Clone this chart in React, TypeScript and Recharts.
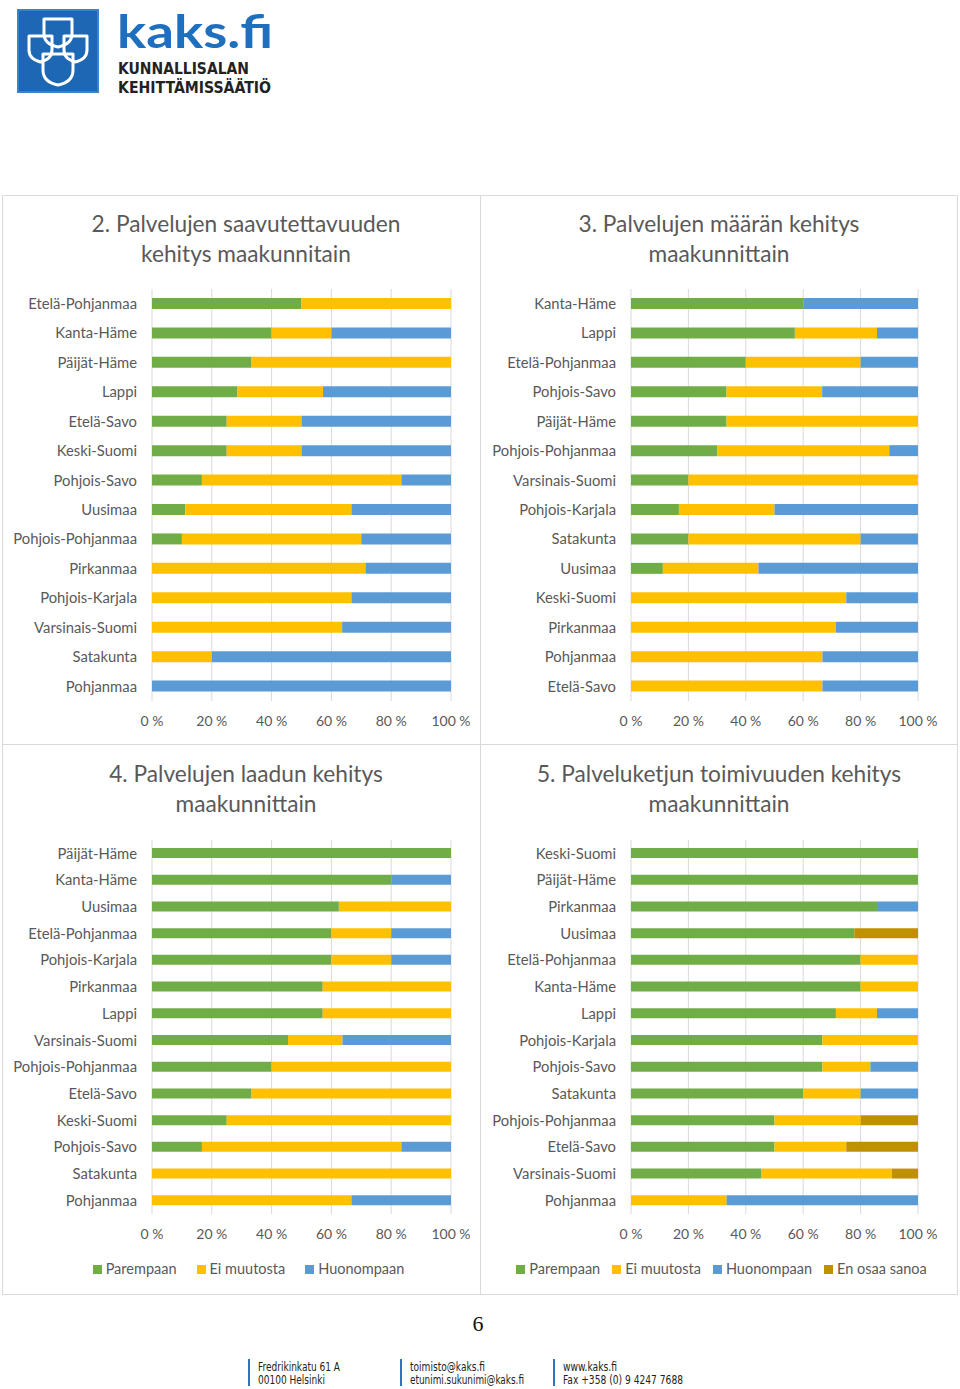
import React from 'react';
import { BarChart, Bar, XAxis, YAxis, CartesianGrid, Legend } from 'recharts';

// ---------- data ----------
const seriesNames = ['Parempaan', 'Ei muutosta', 'Huonompaan', 'En osaa sanoa'];
const xTicks = [0, 20, 40, 60, 80, 100];

// Chart 2
const c2Regions = ['Etelä-Pohjanmaa', 'Kanta-Häme', 'Päijät-Häme', 'Lappi', 'Etelä-Savo', 'Keski-Suomi', 'Pohjois-Savo', 'Uusimaa', 'Pohjois-Pohjanmaa', 'Pirkanmaa', 'Pohjois-Karjala', 'Varsinais-Suomi', 'Satakunta', 'Pohjanmaa'];
const c2Parempaan = [50, 40, 33.3, 28.6, 25, 25, 16.7, 11.1, 10, 0, 0, 0, 0, 0];
const c2EiMuutosta = [50, 20, 66.7, 28.6, 25, 25, 66.7, 55.6, 60, 71.4, 66.7, 63.6, 20, 0];
const c2Huonompaan = [0, 40, 0, 42.8, 50, 50, 16.6, 33.3, 30, 28.6, 33.3, 36.4, 80, 100];

// Chart 3
const c3Regions = ['Kanta-Häme', 'Lappi', 'Etelä-Pohjanmaa', 'Pohjois-Savo', 'Päijät-Häme', 'Pohjois-Pohjanmaa', 'Varsinais-Suomi', 'Pohjois-Karjala', 'Satakunta', 'Uusimaa', 'Keski-Suomi', 'Pirkanmaa', 'Pohjanmaa', 'Etelä-Savo'];
const c3Parempaan = [60, 57.1, 40, 33.3, 33.3, 30, 20, 16.7, 20, 11.1, 0, 0, 0, 0];
const c3EiMuutosta = [0, 28.6, 40, 33.3, 66.7, 60, 80, 33.3, 60, 33.3, 75, 71.4, 66.7, 66.7];
const c3Huonompaan = [40, 14.3, 20, 33.4, 0, 10, 0, 50, 20, 55.6, 25, 28.6, 33.3, 33.3];

// Chart 4
const c4Regions = ['Päijät-Häme', 'Kanta-Häme', 'Uusimaa', 'Etelä-Pohjanmaa', 'Pohjois-Karjala', 'Pirkanmaa', 'Lappi', 'Varsinais-Suomi', 'Pohjois-Pohjanmaa', 'Etelä-Savo', 'Keski-Suomi', 'Pohjois-Savo', 'Satakunta', 'Pohjanmaa'];
const c4Parempaan = [100, 80, 62.5, 60, 60, 57.1, 57.1, 45.5, 40, 33.3, 25, 16.7, 0, 0];
const c4EiMuutosta = [0, 0, 37.5, 20, 20, 42.9, 42.9, 18.2, 60, 66.7, 75, 66.7, 100, 66.7];
const c4Huonompaan = [0, 20, 0, 20, 20, 0, 0, 36.3, 0, 0, 0, 16.6, 0, 33.3];

// Chart 5
const c5Regions = ['Keski-Suomi', 'Päijät-Häme', 'Pirkanmaa', 'Uusimaa', 'Etelä-Pohjanmaa', 'Kanta-Häme', 'Lappi', 'Pohjois-Karjala', 'Pohjois-Savo', 'Satakunta', 'Pohjois-Pohjanmaa', 'Etelä-Savo', 'Varsinais-Suomi', 'Pohjanmaa'];
const c5Parempaan = [100, 100, 85.7, 77.8, 80, 80, 71.4, 66.7, 66.7, 60, 50, 50, 45.5, 0];
const c5EiMuutosta = [0, 0, 0, 0, 20, 20, 14.3, 33.3, 16.7, 20, 30, 25, 45.4, 33.3];
const c5Huonompaan = [0, 0, 14.3, 0, 0, 0, 14.3, 0, 16.6, 20, 0, 0, 0, 66.7];
const c5EnOsaa = [0, 0, 0, 22.2, 0, 0, 0, 0, 0, 0, 20, 25, 9.1, 0];

// ---------- styling ----------
const COLORS: Record<string, string> = {
  Parempaan: '#70AD47',
  'Ei muutosta': '#FFC000',
  Huonompaan: '#5B9BD5',
  'En osaa sanoa': '#BF9000',
};
const FONT = "Lato, 'Open Sans', sans-serif";
const TEXT = '#595959';
const GRID = '#d9d9d9';

function buildRows(names: string[], series: number[][]) {
  return names.map((name, i) => {
    const row: Record<string, any> = { name };
    series.forEach((s, j) => {
      row[seriesNames[j]] = s[i];
    });
    return row;
  });
}

const data2 = buildRows(c2Regions, [c2Parempaan, c2EiMuutosta, c2Huonompaan]);
const data3 = buildRows(c3Regions, [c3Parempaan, c3EiMuutosta, c3Huonompaan]);
const data4 = buildRows(c4Regions, [c4Parempaan, c4EiMuutosta, c4Huonompaan]);
const data5 = buildRows(c5Regions, [c5Parempaan, c5EiMuutosta, c5Huonompaan, c5EnOsaa]);

function LegendBox(props: any) {
  const { payload = [], gap = 16, shift = 0, order = [] } = props;
  const items = [...payload].sort((a: any, b: any) => order.indexOf(a.value) - order.indexOf(b.value));
  return (
    <div
      style={{
        display: 'flex',
        justifyContent: 'center',
        gap,
        height: 20,
        lineHeight: '20px',
        fontSize: 14.5,
        fontFamily: FONT,
        color: TEXT,
        paddingLeft: shift > 0 ? shift : 0,
        paddingRight: shift < 0 ? -shift : 0,
      }}
    >
      {items.map((p: any) => (
        <span key={p.value} style={{ display: 'flex', alignItems: 'center' }}>
          <span style={{ display: 'inline-block', width: 9, height: 9, background: p.color, marginRight: 4 }} />
          {p.value}
        </span>
      ))}
    </div>
  );
}

type PanelProps = {
  left: number;
  top: number;
  width: number;
  height: number;
  data: any[];
  keys: string[];
  barSize: number;
  margin: { top: number; right: number; bottom: number; left: number };
  xAxisHeight: number;
  legendGap?: number;
  legendShift?: number;
};

function Panel(p: PanelProps) {
  return (
    <div style={{ position: 'absolute', left: p.left, top: p.top }}>
      <BarChart layout="vertical" width={p.width} height={p.height} data={p.data} margin={p.margin} barCategoryGap={0}>
        <CartesianGrid horizontal={false} stroke={GRID} />
        <XAxis
          type="number"
          domain={[0, 100]}
          ticks={xTicks}
          allowDataOverflow
          interval={0}
          tickFormatter={(v: number) => `${v} %`}
          axisLine={false}
          tickLine={false}
          tickMargin={9}
          height={p.xAxisHeight}
          tick={{ fill: TEXT, fontSize: 14, fontFamily: FONT }}
        />
        <YAxis
          type="category"
          dataKey="name"
          width={150}
          interval={0}
          axisLine={false}
          tickLine={false}
          tickMargin={9}
          tick={{ fill: TEXT, fontSize: 14.8, fontFamily: FONT }}
        />
        {p.keys.map((k) => (
          <Bar key={k} dataKey={k} name={k} stackId="s" fill={COLORS[k]} barSize={p.barSize} isAnimationActive={false} />
        ))}
        {p.legendGap !== undefined && (
          <Legend
            verticalAlign="bottom"
            wrapperStyle={{ left: 0, width: p.width }}
            content={(props: any) => (
              <LegendBox {...props} gap={p.legendGap} shift={p.legendShift || 0} order={p.keys} />
            )}
          />
        )}
      </BarChart>
    </div>
  );
}

function Title({ lines, center, top }: { lines: string[]; center: number; top: number }) {
  return (
    <div
      style={{
        position: 'absolute',
        left: center - 230,
        width: 460,
        top,
        textAlign: 'center',
        fontFamily: FONT,
        fontSize: 22.7,
        lineHeight: '30px',
        color: TEXT,
        whiteSpace: 'nowrap',
      }}
    >
      {lines.map((l) => (
        <div key={l}>{l}</div>
      ))}
    </div>
  );
}

const NARROW = "'Liberation Sans Narrow', 'DejaVu Sans Condensed', sans-serif";

function Logo() {
  return (
    <svg style={{ position: 'absolute', left: 0, top: 0 }} width={300} height={110}>
      <rect x={18} y={10} width={80} height={82} fill="#1d67b5" stroke="#3b82c9" strokeWidth={2} />
      <g fill="none" stroke="#ffffff" strokeWidth={3} strokeLinejoin="round">
        <path d="M44 19 H72 V34 Q72 44 58 47 Q44 44 44 34 Z" />
        <path d="M29 36 H52 V50 Q52 59 40.5 62 Q29 59 29 50 Z" />
        <path d="M64 36 H87 V50 Q87 59 75.5 62 Q64 59 64 50 Z" />
        <path d="M43 54 H73 V70 Q73 82 58 85 Q43 82 43 70 Z" />
      </g>
      <text x={117} y={48} fontFamily={FONT} fontWeight={700} fontSize={46} fill="#1f6fbf" textLength={156} lengthAdjust="spacingAndGlyphs">
        kaks.fi
      </text>
      <text x={118} y={74} fontFamily={NARROW} fontWeight={700} fontSize={16} fill="#222" textLength={131} lengthAdjust="spacingAndGlyphs">
        KUNNALLISALAN
      </text>
      <text x={118} y={92.5} fontFamily={NARROW} fontWeight={700} fontSize={16} fill="#222" textLength={153} lengthAdjust="spacingAndGlyphs">
        KEHITTÄMISSÄÄTIÖ
      </text>
    </svg>
  );
}

function Footer() {
  const blocks = [
    { x: 248, l1: 'Fredrikinkatu 61 A', w1: 82, l2: '00100 Helsinki', w2: 67 },
    { x: 400, l1: 'toimisto@kaks.fi', w1: 75, l2: 'etunimi.sukunimi@kaks.fi', w2: 114 },
    { x: 553, l1: 'www.kaks.fi', w1: 54, l2: 'Fax +358 (0) 9 4247 7688', w2: 120 },
  ];
  return (
    <svg style={{ position: 'absolute', left: 0, top: 1350 }} width={960} height={39}>
      {blocks.map((b) => (
        <g key={b.l1}>
          <rect x={b.x} y={9} width={2} height={27} fill="#2b74c4" />
          <text fontFamily={NARROW} fontSize={12} fill="#222">
            <tspan x={b.x + 10} y={21} textLength={b.w1} lengthAdjust="spacingAndGlyphs">{b.l1}</tspan>
            <tspan x={b.x + 10} y={34} textLength={b.w2} lengthAdjust="spacingAndGlyphs">{b.l2}</tspan>
          </text>
        </g>
      ))}
    </svg>
  );
}

export default function App() {
  return (
    <div style={{ position: 'absolute', left: 0, top: 0, width: 960, height: 1389, background: '#fff', overflow: 'hidden' }}>
      <Logo />

      {/* frame */}
      <div style={{ position: 'absolute', left: 2, top: 195, width: 954, height: 1098, border: `1px solid ${GRID}` }} />
      <div style={{ position: 'absolute', left: 480, top: 195, width: 1, height: 1099, background: GRID }} />
      <div style={{ position: 'absolute', left: 2, top: 744, width: 955, height: 1, background: GRID }} />

      <Title lines={['2. Palvelujen saavutettavuuden', 'kehitys maakunnitain']} center={246} top={209} />
      <Title lines={['3. Palvelujen määrän kehitys', 'maakunnittain']} center={719} top={209} />
      <Title lines={['4. Palvelujen laadun kehitys', 'maakunnittain']} center={246} top={759} />
      <Title lines={['5. Palveluketjun toimivuuden kehitys', 'maakunnittain']} center={719} top={759} />

      <Panel left={2} top={285} width={478} height={456} data={data2} keys={seriesNames.slice(0, 3)} barSize={11}
        margin={{ top: 4, right: 29, bottom: 10, left: 0 }} xAxisHeight={30} />
      <Panel left={481} top={285} width={476} height={456} data={data3} keys={seriesNames.slice(0, 3)} barSize={11}
        margin={{ top: 4, right: 39, bottom: 10, left: 0 }} xAxisHeight={30} />
      <Panel left={2} top={835} width={478} height={454} data={data4} keys={seriesNames.slice(0, 3)} barSize={10}
        margin={{ top: 5, right: 29, bottom: 10, left: 0 }} xAxisHeight={45} legendGap={20} legendShift={15} />
      <Panel left={481} top={835} width={476} height={454} data={data5} keys={seriesNames} barSize={10}
        margin={{ top: 5, right: 39, bottom: 10, left: 0 }} xAxisHeight={45} legendGap={12} legendShift={5} />

      <div style={{ position: 'absolute', left: 460, width: 36, top: 1311, textAlign: 'center', fontFamily: "'Liberation Serif', serif", fontSize: 22, color: '#111' }}>
        6
      </div>
      <Footer />
    </div>
  );
}
